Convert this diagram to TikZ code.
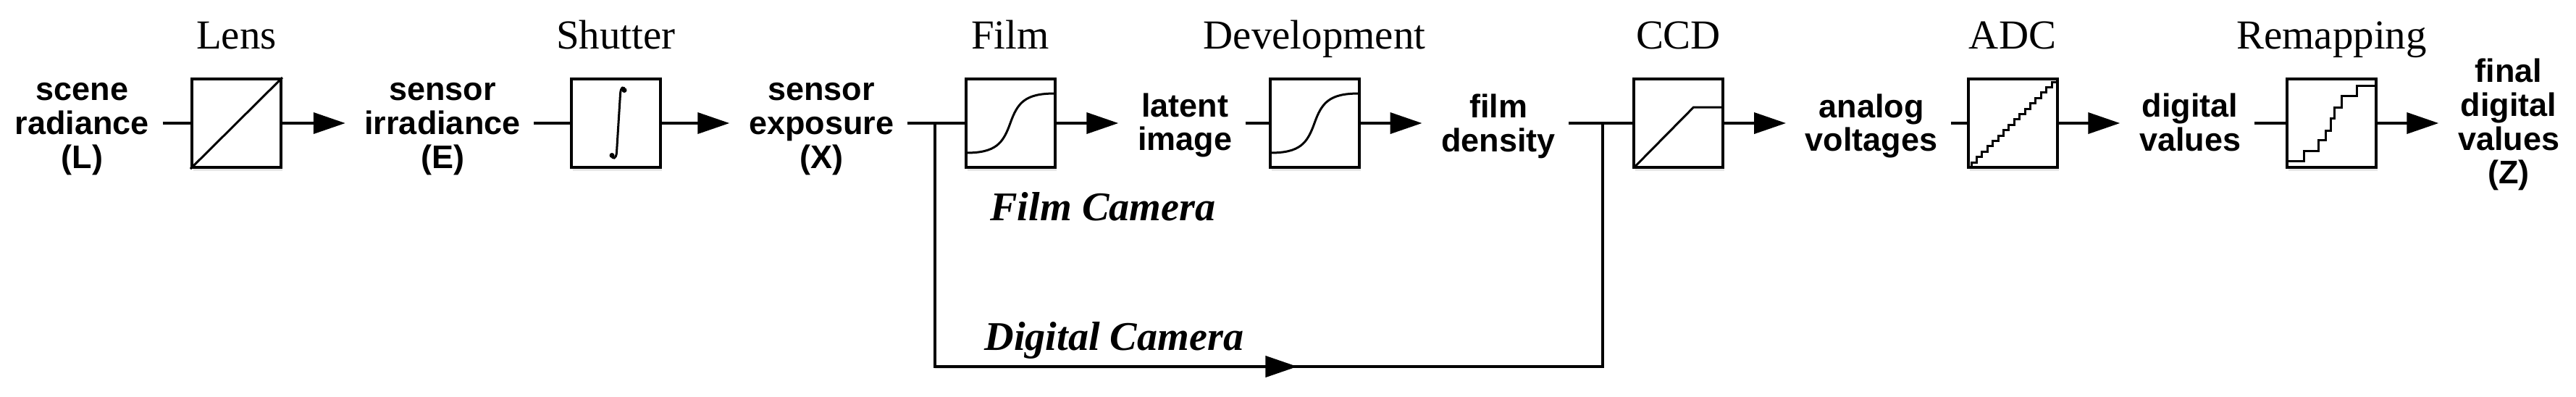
\documentclass[tikz,border=0pt]{standalone}
\usepackage{fontspec}
\setmainfont{Liberation Serif}
\newfontfamily\sigfont{Liberation Sans}
\usetikzlibrary{arrows.meta,positioning,shadows,calc}

\tikzset{
  stage/.style={draw,rectangle,fill=white,line width=0.04cm,minimum width=1.23cm,minimum height=1.22cm,inner sep=0pt,
    drop shadow={shadow xshift=0.02cm,shadow yshift=-0.05cm,opacity=0.18}},
  signal/.style={align=center,inner xsep=0.18cm,inner ysep=0.02cm,font=\sigfont\bfseries\fontsize{12.8}{13.3}\selectfont},
  stagelabel/.style={anchor=base,font=\fontsize{16.2}{18}\selectfont},
  camname/.style={anchor=base west,font=\bfseries\itshape\fontsize{16}{18}\selectfont},
  conn/.style={line width=0.04cm},
  connarrow/.style={conn,-{Triangle[length=0.44cm,width=0.29cm]},shorten >=0.08cm},
  curve/.style={line width=0.03cm}
}

\begin{document}
\begin{tikzpicture}
\useasboundingbox (0,0) rectangle (35.57,5.47);

% stages
\node[stage] (lens) at (3.265,3.77) {};
\node[stage] (shutter) at (8.505,3.77) {};
\node[stage] (film) at (13.95,3.77) {};
\node[stage] (devel) at (18.15,3.77) {};
\node[stage] (ccd) at (23.175,3.77) {};
\node[stage] (adc) at (27.79,3.77) {};
\node[stage] (remap) at (32.195,3.77) {};

% stage names
\node[stagelabel] (lenslabel) at (lens |- 0,4.80) {Lens};
\node[stagelabel] (shutterlabel) at (shutter |- 0,4.80) {Shutter};
\node[stagelabel] (filmlabel) at (film |- 0,4.80) {Film};
\node[stagelabel] (devellabel) at (devel |- 0,4.80) {Development};
\node[stagelabel] (ccdlabel) at (ccd |- 0,4.80) {CCD};
\node[stagelabel] (adclabel) at (adc |- 0,4.80) {ADC};
\node[stagelabel] (remaplabel) at (remap |- 0,4.80) {Remapping};

% quantities
\node[signal] (scene) at (1.135,3.69) {scene\\radiance\\(L)};
\node[signal] (irr) at (6.11,3.69) {sensor\\irradiance\\(E)};
\node[signal] (expo) at (11.34,3.69) {sensor\\exposure\\(X)};
\node[signal] (latent) at (16.36,3.74) {latent\\image};
\node[signal] (density) at (20.69,3.73) {film\\density};
\node[signal] (analog) at (25.84,3.73) {analog\\voltages};
\node[signal] (digital) at (30.24,3.78) {digital\\values};
\node[signal] (final) at (34.64,3.75) {final\\digital\\values\\(Z)};

% transfer curves
\draw[curve] (lens.south west) -- (lens.north east);
\begin{scope}[shift={(shutter.center)}]
  \draw[curve] (0.12,0.455) .. controls (0.115,0.51) and (0.065,0.51) .. (0.06,0.40) -- (0.01,-0.40) .. controls (0.005,-0.50) and (-0.05,-0.50) .. (-0.06,-0.445);
  \fill (0.115,0.455) circle (0.035);
  \fill (-0.055,-0.445) circle (0.035);
\end{scope}
\foreach \s in {film,devel}{
  \begin{scope}[shift={(\s.center)}]
    \draw[curve] (-0.615,-0.41) .. controls (-0.2,-0.41) and (-0.1,-0.28) .. (0,0) .. controls (0.1,0.28) and (0.2,0.41) .. (0.615,0.41);
  \end{scope}
}
\begin{scope}[shift={(ccd.center)}]
  \draw[curve] (-0.615,-0.615) -- (0.21,0.22) -- (0.615,0.22);
\end{scope}
\begin{scope}[shift={(adc.center)}]
  \draw[curve] (-0.57,-0.615) \foreach \i in {1,...,16}{ -- ++(0,0.074) -- ++(0.074,0)};
\end{scope}
\begin{scope}[shift={(remap.center)}]
  \draw[curve] (-0.615,-0.52) -- (-0.38,-0.52) |- (-0.18,-0.38) |- (-0.08,-0.23) |- (-0.01,-0.10) |- (0.04,0.07) |- (0.14,0.22) |- (0.35,0.38) |- (0.615,0.52);
\end{scope}

% main chain
\draw[conn] (scene.east |- lens.west) -- (lens.west);
\draw[connarrow] (lens.east) -- (irr.west |- lens.east);
\draw[conn] (irr.east |- shutter.west) -- (shutter.west);
\draw[connarrow] (shutter.east) -- (expo.west |- shutter.east);
\draw[conn] (expo.east |- film.west) -- (film.west);
\draw[connarrow] (film.east) -- (latent.west |- film.east);
\draw[conn] (latent.east |- devel.west) -- (devel.west);
\draw[connarrow] (devel.east) -- (density.west |- devel.east);
\draw[conn] (density.east |- ccd.west) -- (ccd.west);
\draw[connarrow] (ccd.east) -- (analog.west |- ccd.east);
\draw[conn] (analog.east |- adc.west) -- (adc.west);
\draw[connarrow] (adc.east) -- (digital.west |- adc.east);
\draw[conn] (digital.east |- remap.west) -- (remap.west);
\draw[connarrow] (remap.east) -- (final.west |- remap.east);

% digital bypass
\coordinate (fork) at ([xshift=-0.41cm]film.west);
\coordinate (join) at ([xshift=-0.41cm]ccd.west);
\coordinate (forkbot) at (fork |- 0,0.41);
\coordinate (joinbot) at (join |- 0,0.41);
\draw[conn] (fork) -- (forkbot) -- (joinbot) -- (join);
\draw[connarrow,shorten >=0pt] (forkbot) -- ($(forkbot)!0.543!(joinbot)$);

\node[camname] (filmcam) at (13.55,2.43) {Film Camera};
\node[camname] (digicam) at (13.47,0.64) {Digital Camera};

\end{tikzpicture}
\end{document}
